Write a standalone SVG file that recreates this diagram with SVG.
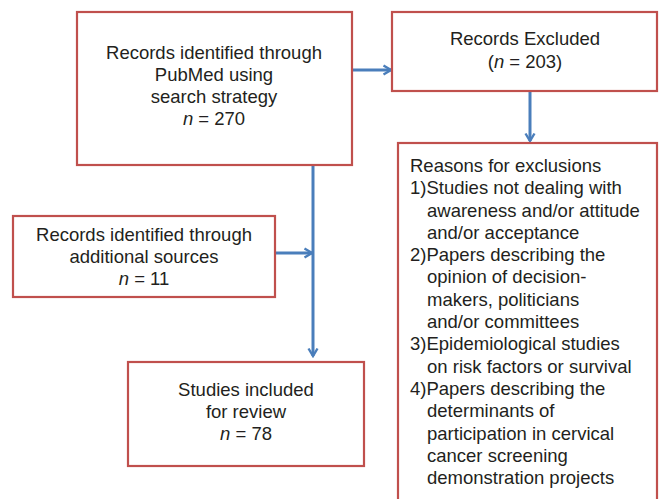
<svg xmlns="http://www.w3.org/2000/svg" width="659" height="499" viewBox="0 0 659 499">
<style>
.box{fill:#fff;stroke:#C0504D;stroke-width:2.2}
.t{font-family:"Liberation Sans",Arial,sans-serif;font-size:18.5px;fill:#231F20}
.c{text-anchor:middle}
.ln{fill:none;stroke:#4A7EBB;stroke-width:3}
</style>
<defs>
<marker id="ah" viewBox="0 0 12 12" refX="10.5" refY="6" markerWidth="12" markerHeight="12" markerUnits="userSpaceOnUse" orient="auto">
<polyline points="3,1.5 10.5,6 3,10.5" fill="none" stroke="#4A7EBB" stroke-width="2.4"/>
</marker>
</defs>
<rect width="659" height="499" fill="#fff"/>
<g id="connectors">
<line class="ln" x1="352" y1="70" x2="391" y2="70" marker-end="url(#ah)"/>
<line class="ln" x1="530" y1="92" x2="530" y2="141" marker-end="url(#ah)"/>
<line class="ln" x1="313" y1="166" x2="313" y2="356" marker-end="url(#ah)"/>
<line class="ln" x1="276" y1="253" x2="312" y2="253" marker-end="url(#ah)"/>
</g>
<g id="pubmed">
<rect class="box" x="77" y="12" width="275" height="153"/>
<text class="t c" x="214" y="59">Records identified through</text>
<text class="t c" x="214" y="81">PubMed using</text>
<text class="t c" x="214" y="103">search strategy</text>
<text class="t c" x="214" y="125"><tspan font-style="italic">n</tspan> = 270</text>
</g>
<g id="excluded">
<rect class="box" x="392" y="12" width="265" height="79"/>
<text class="t c" x="525" y="45">Records Excluded</text>
<text class="t c" x="525" y="68">(<tspan font-style="italic">n</tspan> = 203)</text>
</g>
<g id="reasons">
<rect class="box" x="398" y="143" width="259" height="370"/>
<text class="t" x="410" y="172">Reasons for exclusions</text>
<text class="t" x="410" y="194">1)Studies not dealing with</text>
<text class="t" x="427" y="216.5">awareness and/or attitude</text>
<text class="t" x="427" y="238.5">and/or acceptance</text>
<text class="t" x="410" y="261">2)Papers describing the</text>
<text class="t" x="427" y="283">opinion of decision-</text>
<text class="t" x="427" y="305.5">makers, politicians</text>
<text class="t" x="427" y="327.5">and/or committees</text>
<text class="t" x="410" y="350">3)Epidemiological studies</text>
<text class="t" x="427" y="372.5">on risk factors or survival</text>
<text class="t" x="410" y="395">4)Papers describing the</text>
<text class="t" x="427" y="417">determinants of</text>
<text class="t" x="427" y="439.5">participation in cervical</text>
<text class="t" x="427" y="461.5">cancer screening</text>
<text class="t" x="427" y="484">demonstration projects</text>
</g>
<g id="additional">
<rect class="box" x="13" y="216" width="262" height="81"/>
<text class="t c" x="144" y="241">Records identified through</text>
<text class="t c" x="144" y="263">additional sources</text>
<text class="t c" x="144" y="285"><tspan font-style="italic">n</tspan> = 11</text>
</g>
<g id="included">
<rect class="box" x="128" y="362" width="236" height="104"/>
<text class="t c" x="246" y="396">Studies included</text>
<text class="t c" x="246" y="418">for review</text>
<text class="t c" x="246" y="440"><tspan font-style="italic">n</tspan> = 78</text>
</g>
</svg>
